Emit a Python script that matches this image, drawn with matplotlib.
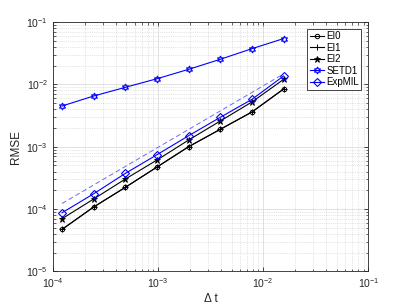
import matplotlib
matplotlib.use("Agg")
import matplotlib.pyplot as plt
from matplotlib.ticker import LogLocator, NullFormatter

plt.rcParams['font.family'] = ['Liberation Sans', 'DejaVu Sans']

dt = [1.220703125e-4, 2.44140625e-4, 4.8828125e-4, 9.765625e-4,
      1.953125e-3, 3.90625e-3, 7.8125e-3, 1.5625e-2]
ei0 = [4.72e-5, 1.08e-4, 2.23e-4, 4.72e-4, 1.00e-3, 1.90e-3, 3.60e-3, 8.41e-3]
ei1 = [4.72e-5, 1.08e-4, 2.23e-4, 4.72e-4, 1.00e-3, 1.90e-3, 3.60e-3, 8.41e-3]
ei2 = [7.0e-5, 1.45e-4, 3.03e-4, 6.11e-4, 1.28e-3, 2.58e-3, 5.21e-3, 1.20e-2]
setd1 = [4.49e-3, 6.5e-3, 8.95e-3, 1.23e-2, 1.74e-2, 2.52e-2, 3.73e-2, 5.41e-2]
expmil = [8.73e-5, 1.76e-4, 3.73e-4, 7.44e-4, 1.50e-3, 2.96e-3, 5.74e-3, 1.36e-2]
ref_x = [1.220703125e-4, 1.5625e-2]
ref_y = [1.23e-4, 1.47e-2]

fig = plt.figure(figsize=(4.07, 3.05), dpi=100)
ax = fig.add_axes([0.13, 0.11, 0.775, 0.818])

lw = 0.8
ax.loglog(dt, ei0, '-o', color='black', lw=lw, ms=3.2, mfc='none', mew=0.7, label='EI0')
ax.loglog(dt, ei1, '-+', color='black', lw=lw, ms=5, mew=0.7, label='EI1')
ax.loglog(dt, ei2, '-*', color='black', lw=lw, ms=4.5, mew=0.6, label='EI2')
ax.loglog(dt, setd1, '-', marker=(6, 1, 0), color='blue', lw=lw, ms=5, mfc='none', mew=0.8, label='SETD1')
ax.loglog(dt, expmil, '-D', color='blue', lw=lw, ms=4.2, mfc='none', mew=0.8, label='ExpMIL')
ax.loglog(ref_x, ref_y, '--', color='#6a6aff', lw=0.7, dashes=(5, 3))

ax.set_xlim(1e-4, 1e-1)
ax.set_ylim(1e-5, 1e-1)
ax.xaxis.set_major_locator(LogLocator(base=10, numticks=10))
ax.yaxis.set_major_locator(LogLocator(base=10, numticks=10))
ax.xaxis.set_minor_locator(LogLocator(base=10, subs=range(2, 10), numticks=20))
ax.yaxis.set_minor_locator(LogLocator(base=10, subs=range(2, 10), numticks=20))
ax.xaxis.set_minor_formatter(NullFormatter())
ax.yaxis.set_minor_formatter(NullFormatter())

ax.grid(True, which='major', color='#dcdcdc', lw=0.6, ls='-')
ax.grid(True, which='minor', color='#cccccc', lw=0.5, ls=':')
ax.set_axisbelow(True)

ax.tick_params(which='both', direction='in', top=True, right=True, labelsize=7.5, colors='#262626')
ax.tick_params(which='major', length=3, width=0.6)
ax.tick_params(which='minor', length=1.8, width=0.5)
for s in ax.spines.values():
    s.set_linewidth(0.6)
    s.set_color('#262626')

ax.set_xlabel('Δ t', fontsize=8.5, color='#262626', labelpad=2)
ax.set_ylabel('RMSE', fontsize=8.5, color='#262626', labelpad=3)

leg = ax.legend(loc='upper right', bbox_to_anchor=(0.978, 0.972), fontsize=7,
                frameon=True, fancybox=False, edgecolor='#262626', framealpha=1,
                handlelength=1.5, handletextpad=0.2, borderpad=0.25, labelspacing=0.15,
                borderaxespad=0)
leg.get_frame().set_linewidth(0.6)

fig.savefig('out.png', dpi=100)
